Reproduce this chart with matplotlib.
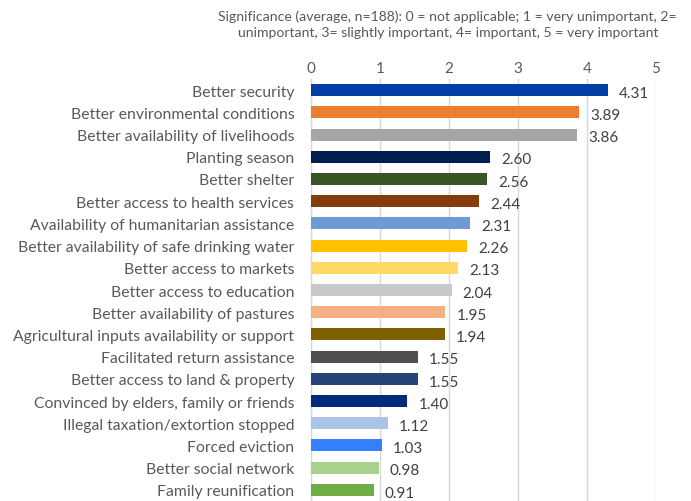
import matplotlib
matplotlib.use("Agg")
import matplotlib.pyplot as plt

categories = [
    "Better security",
    "Better environmental conditions",
    "Better availability of livelihoods",
    "Planting season",
    "Better shelter",
    "Better access to health services",
    "Availability of humanitarian assistance",
    "Better availability of safe drinking water",
    "Better access to markets",
    "Better access to education",
    "Better availability of pastures",
    "Agricultural inputs availability or support",
    "Facilitated return assistance",
    "Better access to land & property",
    "Convinced by elders, family or friends",
    "Illegal taxation/extortion stopped",
    "Forced eviction",
    "Better social network",
    "Family reunification",
]
values = [4.31, 3.89, 3.86, 2.60, 2.56, 2.44, 2.31, 2.26, 2.13, 2.04,
          1.95, 1.94, 1.55, 1.55, 1.40, 1.12, 1.03, 0.98, 0.91]
colors = ["#003DA5", "#ED7D31", "#A5A5A5", "#001F4F", "#375623", "#843C0C",
          "#6F9BD5", "#FFC000", "#FFD966", "#C9C9C9", "#F4B183", "#7F6000",
          "#505050", "#264478", "#002A7A", "#A9C4E6", "#3381FF", "#A9D18E",
          "#70AD47"]
xticks = [0, 1, 2, 3, 4, 5]
title = ("Significance (average, n=188): 0 = not applicable; 1 = very unimportant, 2=\n"
         "unimportant, 3= slightly important, 4= important, 5 = very important")

plt.rcParams['font.family'] = ['Lato', 'DejaVu Sans']
txt = "#595959"

fig = plt.figure(figsize=(6.91, 5.02), dpi=100)
ax = fig.add_axes([0.450, 0.0, 0.499, 0.8406])

y = list(range(len(categories)))
ax.barh(y, values, height=0.54, color=colors, zorder=3)
for yi, v in zip(y, values):
    ax.text(v + 0.16, yi + 0.12, f"{v:.2f}", va="center", ha="left",
            fontsize=11, color="#404040")

ax.set_ylim(len(categories) - 0.5, -0.5)
ax.set_xlim(0, 5)
ax.set_yticks(y)
ax.set_yticklabels(categories, fontsize=11.35, color=txt)
ax.set_xticks(xticks)
ax.set_xticklabels([str(t) for t in xticks], fontsize=11, color=txt)
ax.xaxis.tick_top()
ax.tick_params(axis="y", length=0, pad=12)
ax.tick_params(axis="x", length=0, pad=3)
ax.grid(axis="x", color="#D9D9D9", linewidth=1, zorder=0)
for s in ["top", "right", "bottom"]:
    ax.spines[s].set_visible(False)
ax.spines["left"].set_color("#D9D9D9")
ax.spines["left"].set_linewidth(1)

fig.text(0.648, 0.9505, title, ha="center", va="center", fontsize=10.1,
         color=txt, linespacing=1.4)

fig.savefig("out.png", dpi=100)
